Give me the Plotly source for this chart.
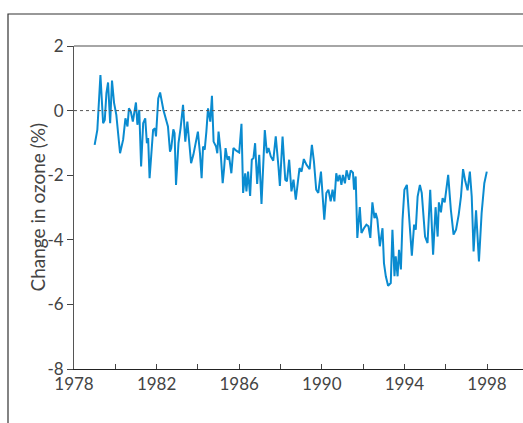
import plotly.graph_objects as go

# Decimal year of each visible vertex of the monthly ozone series
years = [
    1979.00, 1979.13, 1979.28, 1979.41, 1979.49, 1979.57, 1979.65, 1979.75, 1979.84, 1979.94,
    1980.05, 1980.23, 1980.38, 1980.49, 1980.59, 1980.66, 1980.75, 1980.85, 1981.00, 1981.07,
    1981.16, 1981.25, 1981.35, 1981.45, 1981.53, 1981.59, 1981.66, 1981.83, 1981.92, 1981.97,
    1982.08, 1982.17, 1982.33, 1982.47, 1982.55, 1982.65, 1982.71, 1982.81, 1982.87, 1982.94,
    1983.06, 1983.16, 1983.28, 1983.39, 1983.49, 1983.57, 1983.67, 1983.78, 1983.87, 1984.00,
    1984.10, 1984.18, 1984.25, 1984.33, 1984.41, 1984.49, 1984.60, 1984.68, 1984.76, 1984.88,
    1984.94, 1985.00, 1985.10, 1985.20, 1985.27, 1985.34, 1985.43, 1985.51, 1985.62, 1985.72,
    1985.86, 1986.00, 1986.11, 1986.19, 1986.29, 1986.35, 1986.43, 1986.53, 1986.61, 1986.69,
    1986.77, 1986.87, 1986.97, 1987.08, 1987.24, 1987.34, 1987.42, 1987.53, 1987.65, 1987.77,
    1987.90, 1987.97, 1988.10, 1988.23, 1988.31, 1988.42, 1988.53, 1988.63, 1988.74, 1988.92,
    1989.02, 1989.13, 1989.26, 1989.41, 1989.52, 1989.62, 1989.73, 1989.83, 1989.96, 1990.04,
    1990.12, 1990.22, 1990.32, 1990.43, 1990.52, 1990.61, 1990.70, 1990.78, 1990.86, 1990.95,
    1991.02, 1991.12, 1991.20, 1991.32, 1991.40, 1991.51, 1991.56, 1991.64, 1991.72, 1991.84,
    1991.92, 1992.04, 1992.16, 1992.26, 1992.35, 1992.45, 1992.55, 1992.61, 1992.69, 1992.81,
    1992.94, 1993.01, 1993.10, 1993.21, 1993.34, 1993.42, 1993.52, 1993.58, 1993.67, 1993.74,
    1993.83, 1993.91, 1994.00, 1994.12, 1994.23, 1994.36, 1994.47, 1994.55, 1994.64, 1994.75,
    1994.84, 1995.00, 1995.12, 1995.25, 1995.39, 1995.51, 1995.61, 1995.67, 1995.77, 1995.85,
    1995.95, 1996.12, 1996.25, 1996.38, 1996.50, 1996.63, 1996.74, 1996.84, 1996.95, 1997.06,
    1997.17, 1997.26, 1997.35, 1997.47, 1997.61, 1997.74, 1997.87, 1997.99,
]

ozone_change = [
    -1.06, -0.60, 1.10, -0.39, -0.29, 0.54, 0.87, -0.39, 0.93, 0.24,
    -0.13, -1.32, -0.90, -0.24, -0.49, 0.07, -0.03, -0.34, 0.25, -0.44,
    0.02, -1.73, -0.39, -0.24, -1.01, -0.85, -2.09, -0.60, -0.55, -0.80,
    0.38, 0.56, 0.02, -0.29, -0.49, -1.27, -1.16, -0.58, -0.70, -2.30,
    -1.01, -0.55, 0.18, -0.96, -0.34, -0.91, -1.63, -1.37, -1.11, -0.65,
    -1.32, -2.09, -1.11, -1.21, -0.65, 0.07, -0.34, 0.46, -0.96, -1.11,
    -1.32, -0.65, -1.27, -2.25, -1.78, -1.16, -1.52, -1.42, -1.94, -1.16,
    -1.24, -1.30, -0.41, -2.55, -1.94, -2.50, -1.89, -2.64, -1.52, -1.47,
    -1.01, -2.27, -1.37, -2.89, -0.60, -1.32, -1.16, -1.42, -1.55, -0.80,
    -1.73, -2.33, -0.80, -2.14, -2.19, -1.52, -2.50, -2.14, -2.76, -1.78,
    -1.89, -1.50, -1.68, -1.81, -1.06, -1.58, -2.45, -2.55, -1.89, -2.66,
    -3.38, -2.55, -2.45, -2.81, -2.45, -2.81, -1.94, -2.19, -1.99, -2.30,
    -1.99, -2.25, -1.85, -2.14, -1.85, -1.92, -2.45, -2.04, -3.94, -2.99,
    -3.79, -3.64, -3.53, -3.58, -3.94, -2.84, -3.33, -3.17, -3.36, -4.20,
    -3.64, -4.72, -5.13, -5.42, -5.34, -3.69, -5.13, -4.51, -5.13, -4.31,
    -4.92, -3.38, -2.45, -2.30, -3.43, -4.49, -3.53, -3.69, -2.66, -2.30,
    -2.55, -3.90, -4.10, -2.45, -4.46, -2.99, -3.90, -2.84, -3.15, -2.71,
    -2.84, -1.99, -3.07, -3.84, -3.69, -3.22, -2.66, -1.81, -2.19, -2.47,
    -1.89, -2.66, -4.36, -3.09, -4.67, -3.17, -2.25, -1.89,
]

x_tick_vals = [1978, 1980, 1982, 1984, 1986, 1988, 1990, 1992, 1994, 1996, 1998]
x_tick_text = ["1978", "", "1982", "", "1986", "", "1990", "", "1994", "", "1998"]
y_tick_vals = [2, 0, -2, -4, -6, -8]
y_tick_text = ["2", "0", "-2", "-4", "-6", "-8"]

W, H = 523, 423
ML, MR, MT, MB = 74, 0, 46, 54
PW, PH = W - ML - MR, H - MT - MB

font_family = "Lato, 'Noto Sans', sans-serif"

fig = go.Figure()
fig.add_trace(go.Scatter(
    x=years, y=ozone_change, mode="lines",
    line=dict(color="#0a8bd0", width=2),
    hoverinfo="skip", showlegend=False,
))

fig.update_layout(
    width=W, height=H,
    margin=dict(l=ML, r=MR, t=MT, b=MB, pad=0),
    paper_bgcolor="white", plot_bgcolor="white",
    font=dict(family=font_family, size=17, color="#444"),
    xaxis=dict(
        range=[1978, 1978 + PW / 20.65],
        tickmode="array", tickvals=x_tick_vals, ticktext=x_tick_text,
        ticks="inside", ticklen=5, tickcolor="#444", tickwidth=1,
        showline=True, linecolor="#222", linewidth=1,
        showgrid=False, zeroline=False,
        tickfont=dict(size=17, color="#444"),
    ),
    yaxis=dict(
        range=[-8, 2],
        tickmode="array", tickvals=y_tick_vals, ticktext=y_tick_text,
        ticks="outside", ticklen=6, tickcolor="#444", tickwidth=1,
        showline=True, linecolor="#555", linewidth=1,
        showgrid=False, zeroline=False,
        tickfont=dict(size=17, color="#444"),
    ),
    shapes=[
        # dotted zero reference
        dict(type="line", xref="paper", yref="y", x0=0, x1=1, y0=0, y1=0,
             line=dict(color="#555", width=1, dash="dot")),
        # top border of plot area
        dict(type="line", xref="paper", yref="paper", x0=0, x1=1, y0=1, y1=1,
             line=dict(color="#888", width=1.5)),
        # outer frame (left and top edges visible)
        dict(type="rect", xref="paper", yref="paper",
             x0=(8 - ML) / PW, x1=1.2, y0=-0.4, y1=1 + (MT - 14) / PH,
             line=dict(color="#333", width=1.2), fillcolor="rgba(0,0,0,0)"),
    ],
    annotations=[
        dict(text="Change in ozone (%)", xref="paper", yref="paper",
             x=(37 - ML) / PW, y=0.5, textangle=-90, showarrow=False,
             xanchor="center", yanchor="middle",
             font=dict(size=19, color="#444", family=font_family)),
    ],
)

fig.write_html(
    "out.html",
    config={"displayModeBar": False},
    default_width=f"{W}px", default_height=f"{H}px",
    post_script=(
        "document.body.style.margin='0';"
        "document.body.style.overflow='hidden';"
        "document.documentElement.style.overflow='hidden';"
    ),
)
